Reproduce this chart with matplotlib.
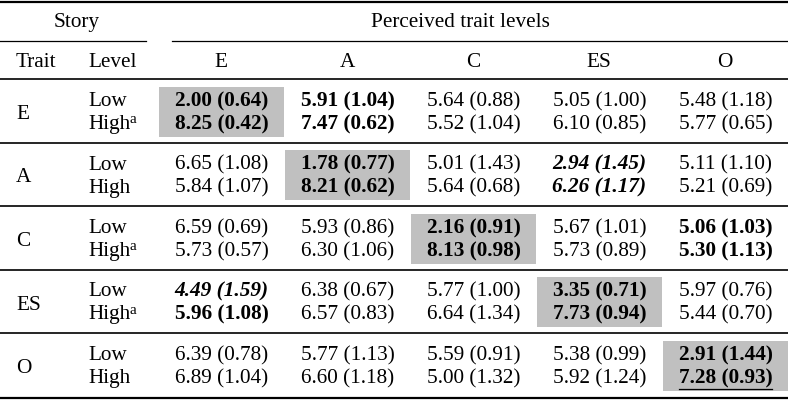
import numpy as np
import matplotlib.pyplot as plt

plt.rcParams['font.family'] = ['Liberation Serif', 'DejaVu Serif']

# datos de la tabla
rasgos = ['E', 'A', 'C', 'ES', 'O']
niveles = ['Low', 'High']
# nota "a" en la fila High de cada rasgo
nota_a = [True, False, True, True, False]
columnas = ['E', 'A', 'C', 'ES', 'O']

medias = np.array([
    [2.00, 5.91, 5.64, 5.05, 5.48],
    [8.25, 7.47, 5.52, 6.10, 5.77],
    [6.65, 1.78, 5.01, 2.94, 5.11],
    [5.84, 8.21, 5.64, 6.26, 5.21],
    [6.59, 5.93, 2.16, 5.67, 5.06],
    [5.73, 6.30, 8.13, 5.73, 5.30],
    [4.49, 6.38, 5.77, 3.35, 5.97],
    [5.96, 6.57, 6.64, 7.73, 5.44],
    [6.39, 5.77, 5.59, 5.38, 2.91],
    [6.89, 6.60, 5.00, 5.92, 7.28],
])
desv = np.array([
    [0.64, 1.04, 0.88, 1.00, 1.18],
    [0.42, 0.62, 1.04, 0.85, 0.65],
    [1.08, 0.77, 1.43, 1.45, 1.10],
    [1.07, 0.62, 0.68, 1.17, 0.69],
    [0.69, 0.86, 0.91, 1.01, 1.03],
    [0.57, 1.06, 0.98, 0.89, 1.13],
    [1.59, 0.67, 1.00, 0.71, 0.76],
    [1.08, 0.83, 1.34, 0.94, 0.70],
    [0.78, 1.13, 0.91, 0.99, 1.44],
    [1.04, 1.18, 1.32, 1.24, 0.93],
])
# estilo: 0 normal, 1 negrita, 2 negrita cursiva
estilo = np.array([
    [1, 1, 0, 0, 0],
    [1, 1, 0, 0, 0],
    [0, 1, 0, 2, 0],
    [0, 1, 0, 2, 0],
    [0, 0, 1, 0, 1],
    [0, 0, 1, 0, 1],
    [2, 0, 0, 1, 0],
    [1, 0, 0, 1, 0],
    [0, 0, 0, 0, 1],
    [0, 0, 0, 0, 1],
])

fig = plt.figure(figsize=(7.88, 4.0), dpi=100)
ax = fig.add_axes([0, 0, 1, 1])
ax.set_xlim(0, 788)
ax.set_ylim(400, 0)
ax.axis('off')

fs = 15.3
x_col0 = 158
ancho = 126
x_cent = [x_col0 + ancho * (j + 0.5) for j in range(5)]

# reglas
ax.plot([0, 788], [2, 2], color='black', lw=1.6)
ax.plot([0, 146], [41, 41], color='black', lw=0.9)
ax.plot([172, 788], [41, 41], color='black', lw=0.9)
ax.plot([0, 788], [79, 79], color='black', lw=1.2)
ax.plot([0, 788], [397.5, 397.5], color='black', lw=1.6)

ax.text(77, 27, 'Story', ha='center', va='baseline', fontsize=fs)
ax.text(460, 27, 'Perceived trait levels', ha='center', va='baseline', fontsize=fs)
ax.text(16, 67, 'Trait', ha='left', va='baseline', fontsize=fs)
ax.text(88, 67, 'Level', ha='left', va='baseline', fontsize=fs)
for j, c in enumerate(columnas):
    ax.text(x_cent[j], 67, c, ha='center', va='baseline', fontsize=fs)

# anchos de referencia
fig.canvas.draw()
r = fig.canvas.get_renderer()
inv = ax.transData.inverted()


def ancho_texto(s, **kw):
    t = ax.text(0, 0, s, fontsize=fs, **kw)
    bb = t.get_window_extent(r).transformed(inv)
    t.remove()
    return bb.x1 - bb.x0


anchos = {s: ancho_texto('0.00 (0.00)',
                         fontweight='bold' if s > 0 else 'normal',
                         fontstyle='italic' if s == 2 else 'normal')
          for s in range(3)}
ancho_high = ancho_texto('High')

alto_grupo = 63.5
textos = {}
for g, rg in enumerate(rasgos):
    y0 = 79 + g * alto_grupo
    if g > 0:
        ax.plot([0, 788], [y0, y0], color='black', lw=1.2)
    ax.text(16, y0 + 40, rg, ha='left', va='baseline', fontsize=fs)
    # caja gris en la diagonal
    ax.add_patch(plt.Rectangle((x_col0 + ancho * g + 1, y0 + 7.5), ancho - 1, alto_grupo - 13.5,
                               facecolor='#c0c0c0', edgecolor='none', zorder=0))
    for k in range(2):
        fila = 2 * g + k
        y = y0 + 27 + k * 23
        ax.text(88, y, niveles[k], ha='left', va='baseline', fontsize=fs)
        if k == 1 and nota_a[g]:
            ax.text(88 + ancho_high - 0.5, y - 6, 'a', ha='left', va='baseline', fontsize=11)
        for j in range(5):
            s = estilo[fila, j]
            t = ax.text(x_cent[j] - anchos[s] / 2, y,
                        f'{medias[fila, j]:.2f} ({desv[fila, j]:.2f})',
                        ha='left', va='baseline', fontsize=fs,
                        fontweight='bold' if s > 0 else 'normal',
                        fontstyle='italic' if s == 2 else 'normal')
            textos[(fila, j)] = t

# subrayado de la última celda
fig.canvas.draw()
bb = textos[(9, 4)].get_window_extent(r).transformed(inv)
ax.plot([bb.x0, bb.x1], [389, 389], color='black', lw=0.9)

fig.savefig('out.png', dpi=100)
